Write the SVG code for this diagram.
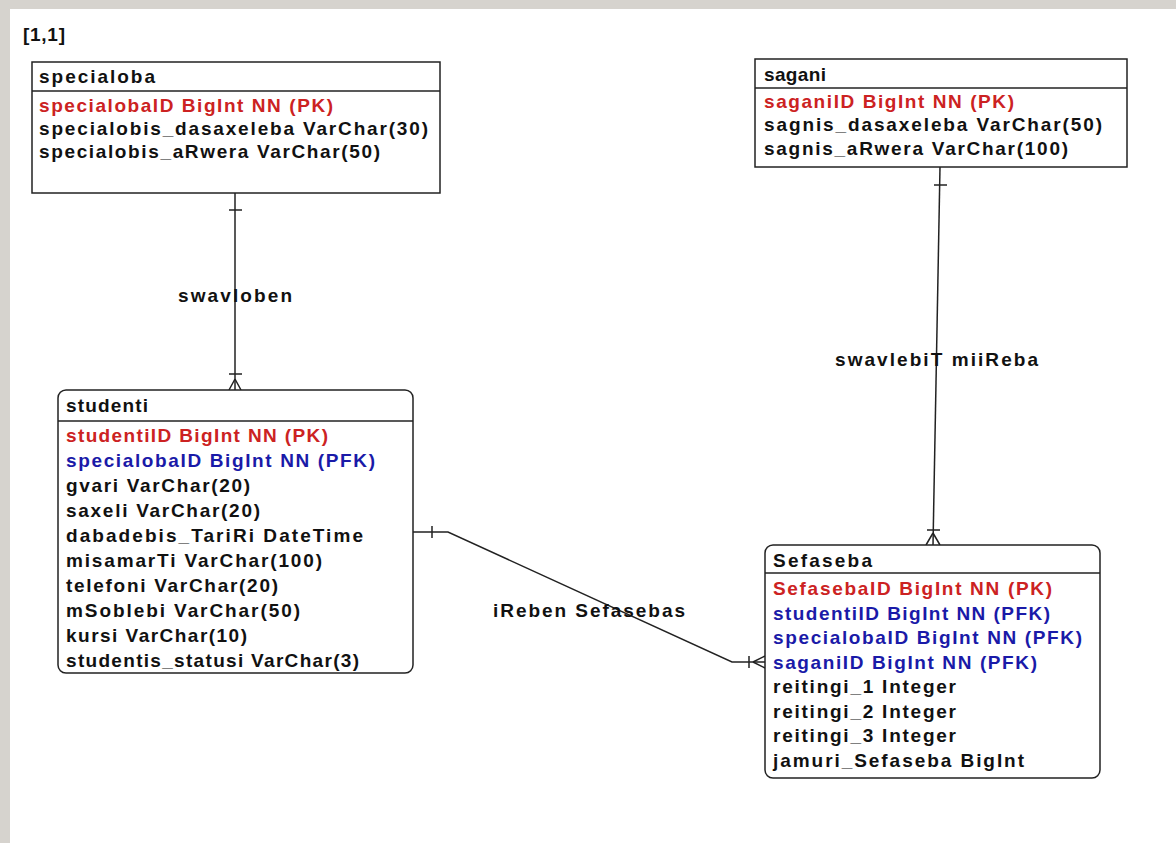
<svg xmlns="http://www.w3.org/2000/svg" width="1176" height="843" viewBox="0 0 1176 843">
<style>
.t{font-family:"Liberation Sans",Arial,sans-serif;font-weight:bold;font-size:19px;fill:#111}
.pk{fill:#cc2222}
.fk{fill:#1a1aa8}
.box{fill:#fff;stroke:#222;stroke-width:1.5}
.ln{fill:none;stroke:#222;stroke-width:1.5}
</style>
<rect x="0" y="0" width="1176" height="843" fill="#fff"/>
<rect x="0" y="0" width="1176" height="9" fill="#d6d3ce"/>
<rect x="0" y="0" width="10" height="843" fill="#d6d3ce"/>
<text class="t" x="23" y="41" textLength="42" lengthAdjust="spacing">[1,1]</text>

<g id="connectors">
  <path class="ln" d="M235,193 V390"/>
  <path class="ln" d="M229,210 H242"/>
  <path class="ln" d="M229,374 H242 M235,379 L229,390 M235,379 L241,390"/>
  <text class="t" x="178" y="302" textLength="114" lengthAdjust="spacing">swavloben</text>
  <path class="ln" d="M940,167 L933,545"/>
  <path class="ln" d="M934,185 H947"/>
  <path class="ln" d="M927,530 H940 M933,533 L926,545 M933,533 L940,545"/>
  <text class="t" x="835" y="366" textLength="203" lengthAdjust="spacing">swavlebiT miiReba</text>
  <path class="ln" d="M413,532 H448 L732,662 H765"/>
  <path class="ln" d="M432,526 V538"/>
  <path class="ln" d="M749,656 V668 M753,662 L765,656 M753,662 L765,668"/>
  <text class="t" x="493" y="617" textLength="192" lengthAdjust="spacing">iReben Sefasebas</text>
</g>

<g id="specialoba">
  <rect class="box" x="32" y="62" width="408" height="131"/>
  <path class="ln" d="M32,91 H440"/>
  <text class="t" x="39" y="83" textLength="116" lengthAdjust="spacing">specialoba</text>
  <text class="t pk" x="39" y="112" textLength="294" lengthAdjust="spacing">specialobaID BigInt NN (PK)</text>
  <text class="t" x="39" y="135" textLength="389" lengthAdjust="spacing">specialobis_dasaxeleba VarChar(30)</text>
  <text class="t" x="39" y="158" textLength="341" lengthAdjust="spacing">specialobis_aRwera VarChar(50)</text>
</g>

<g id="sagani">
  <rect class="box" x="755" y="59" width="372" height="108"/>
  <path class="ln" d="M755,88 H1127"/>
  <text class="t" x="764" y="81" textLength="62" lengthAdjust="spacing">sagani</text>
  <text class="t pk" x="764" y="108" textLength="250" lengthAdjust="spacing">saganiID BigInt NN (PK)</text>
  <text class="t" x="764" y="131" textLength="338" lengthAdjust="spacing">sagnis_dasaxeleba VarChar(50)</text>
  <text class="t" x="764" y="155" textLength="304" lengthAdjust="spacing">sagnis_aRwera VarChar(100)</text>
</g>

<g id="studenti">
  <rect class="box" x="58" y="390" width="355" height="283" rx="8"/>
  <path class="ln" d="M58,421 H413"/>
  <text class="t" x="66" y="412" textLength="82" lengthAdjust="spacing">studenti</text>
  <text class="t pk" x="66" y="442" textLength="262" lengthAdjust="spacing">studentiID BigInt NN (PK)</text>
  <text class="t fk" x="66" y="467" textLength="309" lengthAdjust="spacing">specialobaID BigInt NN (PFK)</text>
  <text class="t" x="66" y="492" textLength="184" lengthAdjust="spacing">gvari VarChar(20)</text>
  <text class="t" x="66" y="517" textLength="194" lengthAdjust="spacing">saxeli VarChar(20)</text>
  <text class="t" x="66" y="542" textLength="297" lengthAdjust="spacing">dabadebis_TariRi DateTime</text>
  <text class="t" x="66" y="567" textLength="256" lengthAdjust="spacing">misamarTi VarChar(100)</text>
  <text class="t" x="66" y="592" textLength="212" lengthAdjust="spacing">telefoni VarChar(20)</text>
  <text class="t" x="66" y="617" textLength="234" lengthAdjust="spacing">mSoblebi VarChar(50)</text>
  <text class="t" x="66" y="642" textLength="181" lengthAdjust="spacing">kursi VarChar(10)</text>
  <text class="t" x="66" y="667" textLength="293" lengthAdjust="spacing">studentis_statusi VarChar(3)</text>
</g>

<g id="Sefaseba">
  <rect class="box" x="765" y="545" width="335" height="233" rx="8"/>
  <path class="ln" d="M765,573 H1100"/>
  <text class="t" x="773" y="567" textLength="99" lengthAdjust="spacing">Sefaseba</text>
  <text class="t pk" x="773" y="595" textLength="279" lengthAdjust="spacing">SefasebaID BigInt NN (PK)</text>
  <text class="t fk" x="773" y="620" textLength="277" lengthAdjust="spacing">studentiID BigInt NN (PFK)</text>
  <text class="t fk" x="773" y="644" textLength="309" lengthAdjust="spacing">specialobaID BigInt NN (PFK)</text>
  <text class="t fk" x="773" y="669" textLength="264" lengthAdjust="spacing">saganiID BigInt NN (PFK)</text>
  <text class="t" x="773" y="693" textLength="183" lengthAdjust="spacing">reitingi_1 Integer</text>
  <text class="t" x="773" y="718" textLength="183" lengthAdjust="spacing">reitingi_2 Integer</text>
  <text class="t" x="773" y="742" textLength="183" lengthAdjust="spacing">reitingi_3 Integer</text>
  <text class="t" x="773" y="767" textLength="251" lengthAdjust="spacing">jamuri_Sefaseba BigInt</text>
</g>
</svg>
